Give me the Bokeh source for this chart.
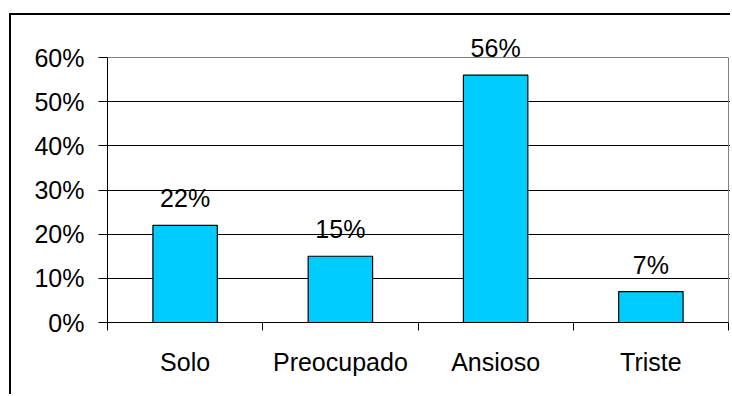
from bokeh.plotting import figure
from bokeh.models import ColumnDataSource, FixedTicker, NumeralTickFormatter, LabelSet
from bokeh.core.properties import value
from bokeh.embed import file_html
from bokeh.resources import INLINE

categories = ["Solo", "Preocupado", "Ansioso", "Triste"]
values = [0.22, 0.15, 0.56, 0.07]
y_ticks = [0.0, 0.1, 0.2, 0.3, 0.4, 0.5, 0.6]

FONT = "Liberation Sans"
FS = "25px"
Y_MAX = 0.6
N = len(categories)

xs = [i + 0.5 for i in range(N)]
labels = [f"{round(v * 100)}%" for v in values]
src = ColumnDataSource(dict(x=xs, top=values, label=labels))

# frame extends beyond the drawn chart area so labels above it are not clipped
H, W = 381, 721
B_LEFT, B_BOTTOM = 96, 74
PLOT_H = 265.0   # pixel height of 0..60%
PLOT_W = 621.0   # pixel width of the category area
y_end = Y_MAX * (H - B_BOTTOM) / PLOT_H
x_end = N * (W - B_LEFT) / PLOT_W

p = figure(width=W, height=H, x_range=(0, x_end), y_range=(0, y_end),
           output_backend="svg", toolbar_location=None,
           min_border_left=B_LEFT, min_border_right=0, min_border_top=0,
           min_border_bottom=B_BOTTOM)
p.margin = (13, 0, 0, 9)
p.styles = {"border-left": "2px solid black", "border-top": "2px solid black"}

p.background_fill_color = "white"
p.border_fill_color = "white"
p.outline_line_color = None

p.ygrid.ticker = FixedTicker(ticks=y_ticks[:-1])
p.ygrid.grid_line_color = "black"
p.ygrid.grid_line_width = 1
p.xgrid.grid_line_color = None

# plot-area border (gray) on top and right
p.segment(x0=[0, N], y0=[Y_MAX, 0], x1=[N, N], y1=[Y_MAX, Y_MAX],
          line_color="#808080", line_width=1)

p.vbar(x="x", top="top", width=0.415, source=src, fill_color="#00CCFF",
       line_color="black", line_width=1.2)

lab = LabelSet(x="x", y="top", text="label", source=src, text_align="center",
               text_baseline="alphabetic", y_offset=18, text_font=value(FONT),
               text_font_size=value(FS), text_color="black")
p.add_layout(lab)

# y axis
p.yaxis.bounds = (0, Y_MAX)
p.yaxis.ticker = FixedTicker(ticks=y_ticks)
p.yaxis.formatter = NumeralTickFormatter(format="0%")
p.yaxis.major_tick_out = 9
p.yaxis.major_tick_in = 0
p.yaxis.minor_tick_out = 0
p.yaxis.minor_tick_in = 0
p.yaxis.major_label_standoff = 14
p.yaxis.axis_line_color = "black"
p.yaxis.major_tick_line_color = "black"

# x axis: labels at centers, ticks at category boundaries
p.xaxis.bounds = (0, N)
p.xaxis.ticker = FixedTicker(ticks=xs, minor_ticks=list(range(N + 1)))
p.xaxis.major_label_overrides = {x: c for x, c in zip(xs, categories)}
p.xaxis.major_tick_out = 0
p.xaxis.major_tick_in = 0
p.xaxis.minor_tick_out = 8
p.xaxis.minor_tick_in = 0
p.xaxis.minor_tick_line_color = "black"
p.xaxis.major_label_standoff = 17
p.xaxis.axis_line_color = "black"

for ax in (p.xaxis, p.yaxis):
    ax.major_label_text_font = FONT
    ax.major_label_text_font_size = FS
    ax.major_label_text_color = "black"

open("out.html", "w").write(file_html(p, INLINE))
